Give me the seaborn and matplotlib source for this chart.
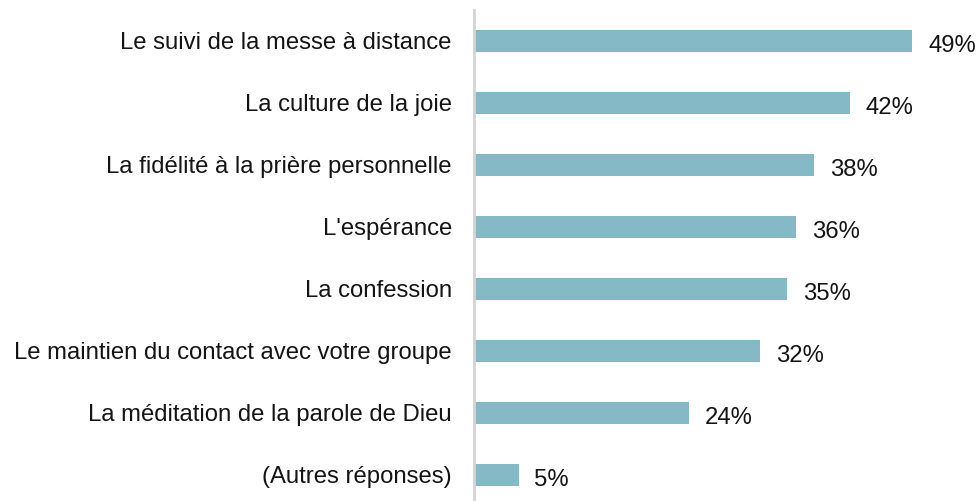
import matplotlib

matplotlib.use("Agg")

import matplotlib.pyplot as plt
import pandas as pd
import seaborn as sns

categories = [
    "Le suivi de la messe à distance",
    "La culture de la joie",
    "La fidélité à la prière personnelle",
    "L'espérance",
    "La confession",
    "Le maintien du contact avec votre groupe",
    "La méditation de la parole de Dieu",
    "(Autres réponses)",
]
values = [49, 42, 38, 36, 35, 32, 24, 5]

BAR_COLOR = "#86B9C6"
TEXT_COLOR = "#141414"

df = pd.DataFrame({"item": categories, "pct": values})

sns.set_theme(style="white")
plt.rcParams["font.family"] = ["Liberation Sans", "DejaVu Sans"]

fig = plt.figure(figsize=(9.8, 5.01), dpi=100)
ax = fig.add_axes([474 / 980, 0.0, 501 / 980, 1 - 10 / 501])

sns.barplot(
    data=df,
    x="pct",
    y="item",
    orient="h",
    color=BAR_COLOR,
    saturation=1,
    width=0.355,
    ax=ax,
)

for patch in ax.patches:
    patch.set_edgecolor("none")

for i, v in enumerate(values):
    ax.text(
        v + 1.75,
        i + 0.04,
        f"{v}%",
        va="center_baseline",
        ha="left",
        fontsize=17.2,
        color=TEXT_COLOR,
    )

ax.set_xlim(0, 56)
ax.set_ylim(7.42, -0.5)
ax.set_xlabel("")
ax.set_ylabel("")
ax.set_xticks([])
ax.tick_params(axis="y", length=0, pad=16, labelsize=17.2, labelcolor=TEXT_COLOR)

for side in ["top", "right", "bottom"]:
    ax.spines[side].set_visible(False)
ax.spines["left"].set_color("#d4d4d4")
ax.spines["left"].set_linewidth(2)

fig.savefig("out.png", dpi=100)
